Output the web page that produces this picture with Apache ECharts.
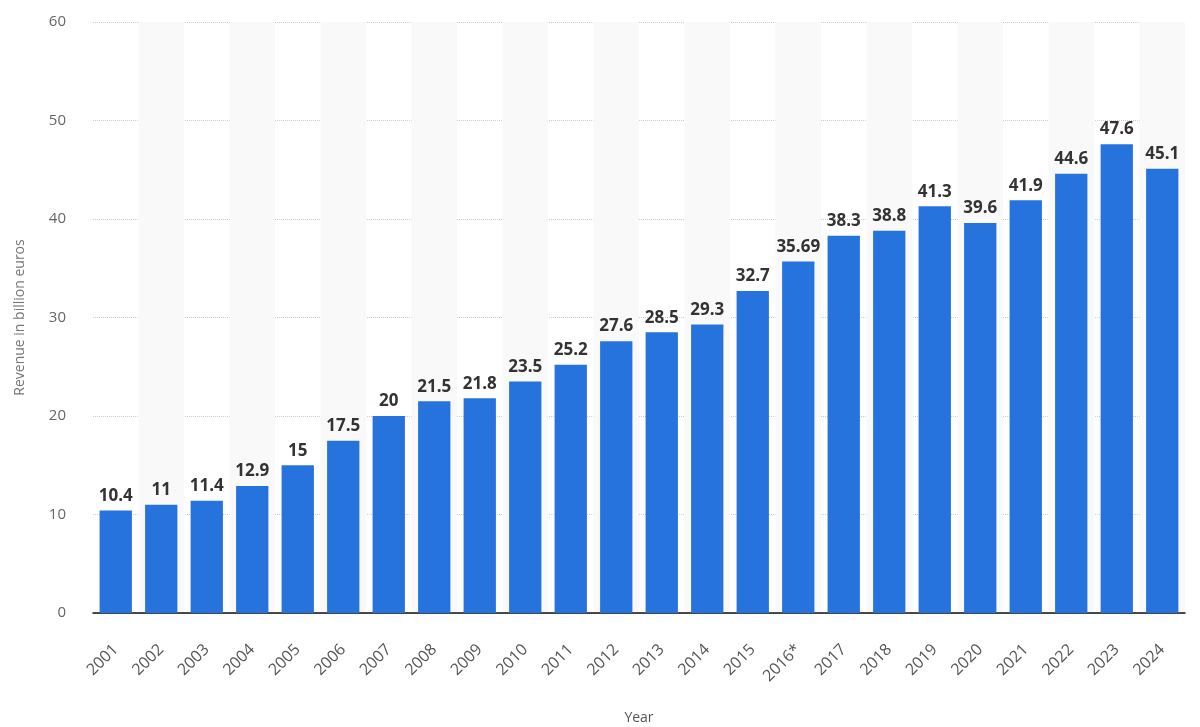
<!DOCTYPE html>
<html>
<head>
<meta charset="utf-8">
<script src="https://cdn.jsdelivr.net/npm/echarts@6/dist/echarts.min.js"></script>
<style>
  html, body { margin: 0; padding: 0; background: #fff; }
  #main { width: 1200px; height: 727px; }
</style>
</head>
<body>
<div id="main"></div>
<script>
var chart = echarts.init(document.getElementById('main'));

var years = ['2001', '2002', '2003', '2004', '2005', '2006', '2007', '2008', '2009', '2010',
    '2011', '2012', '2013', '2014', '2015', '2016*', '2017', '2018', '2019', '2020',
    '2021', '2022', '2023', '2024'];
var revenue = [10.4, 11, 11.4, 12.9, 15, 17.5, 20, 21.5, 21.8, 23.5,
    25.2, 27.6, 28.5, 29.3, 32.7, 35.69, 38.3, 38.8, 41.3, 39.6,
    41.9, 44.6, 47.6, 45.1];

chart.setOption({
    backgroundColor: '#fff',
    animation: false,
    textStyle: {
        fontFamily: 'Open Sans'
    },
    grid: {
        left: 93,
        right: 15,
        top: 22,
        bottom: 114,
        outerBoundsMode: 'none'
    },
    xAxis: {
        type: 'category',
        data: years,
        name: 'Year',
        nameLocation: 'middle',
        nameGap: 98,
        nameTextStyle: {
            color: '#555',
            fontSize: 14
        },
        axisLine: {
            lineStyle: { color: '#111', width: 1.5 }
        },
        axisTick: { show: false },
        axisLabel: {
            rotate: 45,
            color: '#555',
            fontSize: 16,
            margin: 34,
            interval: 0
        },
        splitArea: {
            show: true,
            areaStyle: {
                color: ['rgba(255,255,255,0)', '#f9f9f9']
            }
        }
    },
    yAxis: {
        type: 'value',
        min: 0,
        max: 60,
        interval: 10,
        name: 'Revenue in billion euros',
        nameLocation: 'middle',
        nameGap: 66,
        nameTextStyle: {
            color: '#777',
            fontSize: 14
        },
        axisLabel: {
            color: '#666',
            fontSize: 15,
            margin: 27
        },
        splitLine: {
            lineStyle: { color: '#ccc', type: 'dotted' }
        }
    },
    series: [{
        type: 'bar',
        data: revenue,
        barCategoryGap: '29%',
        itemStyle: {
            color: '#2673dd'
        },
        label: {
            show: true,
            position: 'top',
            distance: 6,
            color: '#333',
            fontSize: 17,
            fontWeight: 'bold'
        }
    }]
});
</script>
</body>
</html>
